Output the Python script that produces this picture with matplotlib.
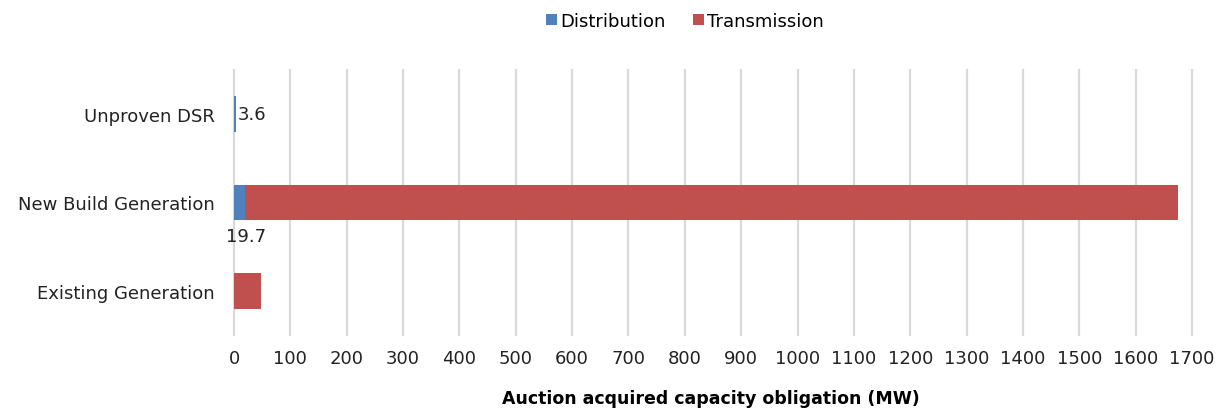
import matplotlib.pyplot as plt
import numpy as np

categories = ['Existing Generation', 'New Build Generation', 'Unproven DSR']
distribution = [0, 19.7, 3.6]
transmission = [47.4, 1655, 0]
xticks = list(range(0, 1701, 100))

blue = '#4F81BD'
red = '#C0504D'

plt.rcParams['font.family'] = 'DejaVu Sans'
fig = plt.figure(figsize=(12.17, 4.10), dpi=100)
ax = fig.add_axes([234 / 1217, 1 - 336 / 410, (1192 - 234) / 1217, (336 - 71) / 410])

y = np.arange(len(categories))
ax.barh(y, distribution, height=0.4, color=blue, label='Distribution', zorder=3)
ax.barh(y, transmission, left=distribution, height=0.4, color=red, label='Transmission', zorder=3)

# data labels
ax.text(distribution[2] + 3, y[2], '3.6', ha='left', va='center', fontsize=13, color='#222222')
ax.text(21, y[1] - 0.38, '19.7', ha='center', va='center', fontsize=13, color='#222222')

ax.set_xlim(0, 1700)
ax.set_ylim(-0.5, 2.5)
ax.set_xticks(xticks)
ax.set_yticks(y)
ax.set_yticklabels(categories)
ax.tick_params(axis='both', length=0, labelsize=13, colors='#222222')
ax.tick_params(axis='x', pad=10)
ax.tick_params(axis='y', pad=14)
ax.grid(axis='x', color='#D9D9D9', linewidth=1.6, zorder=0)
for g in ax.get_xgridlines():
    g.set_clip_on(False)
for s in ax.spines.values():
    s.set_visible(False)

fig.text(711 / 1217, 1 - 399 / 410, 'Auction acquired capacity obligation (MW)',
         ha='center', va='center', fontsize=12.5, fontweight='bold')

fig.legend(loc='center', bbox_to_anchor=(685 / 1217, 1 - 22 / 410), ncol=2, frameon=False,
           fontsize=13, handlelength=0.6, handleheight=0.6, handletextpad=0.2, columnspacing=1.5)

fig.savefig('out.png', dpi=100)
